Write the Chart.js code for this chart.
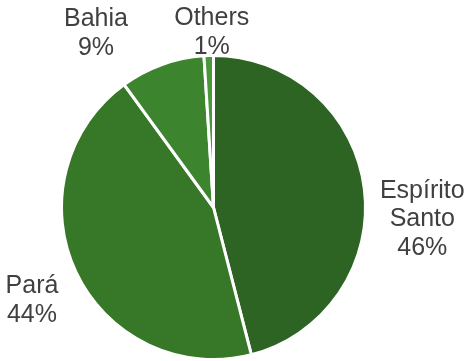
<html>
<head>
<meta charset="utf-8">
<style>
  html, body { margin: 0; padding: 0; background: #fff; }
  #wrap { width: 468px; height: 361px; }
</style>
</head>
<body>
<div id="wrap"><canvas id="myChart"></canvas></div>
<script src="https://cdn.jsdelivr.net/npm/chart.js"></script>
<script>
var labels = [["Espírito", "Santo"], ["Pará"], ["Bahia"], ["Others"]];
var shares = [46, 44, 9, 1];
var colors = ["#2d6423", "#367827", "#3d842f", "#4a983b"];

// where each label block sits, relative to the outer edge of its slice
var labelOffsets = [[58, 29], [-44, 26], [-66, -33], [3, -25]];

var outsideLabels = {
    id: "outsideLabels",
    afterDatasetsDraw: function (chart) {
        var ctx = chart.ctx;
        var meta = chart.getDatasetMeta(0);
        ctx.save();
        ctx.font = "25px 'Liberation Sans', Arial, sans-serif";
        ctx.fillStyle = "#404040";
        ctx.textAlign = "center";
        ctx.textBaseline = "alphabetic";
        var lh = 28.7;
        var capHalf = 9;
        meta.data.forEach(function (arc, i) {
            var p = arc.getProps(["x", "y", "startAngle", "endAngle", "outerRadius"], true);
            var mid = (p.startAngle + p.endAngle) / 2;
            var ex = p.x + Math.cos(mid) * p.outerRadius;
            var ey = p.y + Math.sin(mid) * p.outerRadius;
            var cx = ex + labelOffsets[i][0];
            var cy = ey + labelOffsets[i][1];
            var lines = labels[i].concat([shares[i] + "%"]);
            lines.forEach(function (t, j) {
                var y = cy + (j - (lines.length - 1) / 2) * lh + capHalf;
                ctx.fillText(t, cx, y);
            });
        });
        ctx.restore();
    }
};

var ctx = document.getElementById("myChart").getContext("2d");
var myChart = new Chart(ctx, {
    type: "pie",
    data: {
        labels: labels.map(function (l) { return l.join(" "); }),
        datasets: [{
            data: shares,
            backgroundColor: colors,
            borderColor: "#ffffff",
            borderWidth: 3
        }]
    },
    options: {
        responsive: true,
        maintainAspectRatio: false,
        animation: false,
        layout: { padding: { left: 60, right: 101, top: 54, bottom: 0 } },
        plugins: {
            legend: { display: false },
            tooltip: { enabled: false }
        }
    },
    plugins: [outsideLabels]
});
</script>
</body>
</html>
